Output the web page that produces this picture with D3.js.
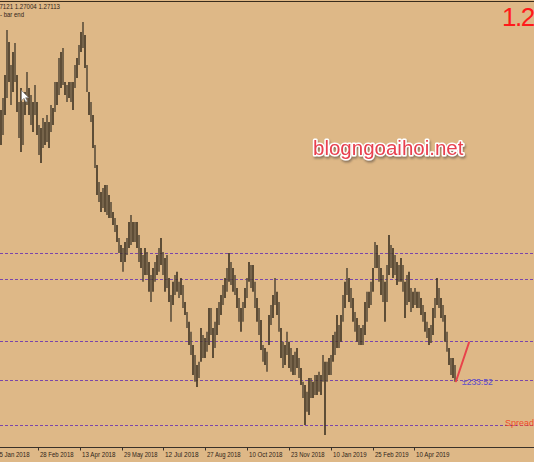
<!DOCTYPE html>
<html>
<head>
    <title>GBPUSD Daily</title>
    <script src="https://d3js.org/d3.v7.min.js"></script>
    <style>
        body { margin: 0; background: #deb887; }
        svg { display: block; }
        .bar { stroke-width: 1.6; }
        .level { stroke: #7a46aa; stroke-width: 1; stroke-dasharray: 3,2; }
        .small { font-family: "Liberation Sans", "DejaVu Sans", sans-serif; font-size: 7px; fill: #2e2418; }
    </style>
</head>
<body>
    <div id="chart"></div>
    <script>
        // daily highs / lows, one sample per ~1.5 bars
        const highs = [
            1.3963, 1.4019, 1.4127, 1.4339, 1.4283, 1.4174, 1.4236, 1.4278, 1.4127, 1.4000,
            1.4066, 1.4000, 1.4048, 1.4142, 1.4066, 1.4033, 1.4000, 1.4080, 1.4000, 1.3892,
            1.3878, 1.3925, 1.3907, 1.3939, 1.3907, 1.3986, 1.3972, 1.4095, 1.4095, 1.4207,
            1.4236, 1.4254, 1.4095, 1.4080, 1.4095, 1.4095, 1.4095, 1.4174, 1.4207, 1.4268,
            1.4330, 1.4377, 1.4315, 1.4174, 1.4048, 1.4000, 1.3939, 1.3798, 1.3704, 1.3625,
            1.3578, 1.3596, 1.3610, 1.3610, 1.3563, 1.3531, 1.3484, 1.3455, 1.3422, 1.3361,
            1.3328, 1.3314, 1.3343, 1.3361, 1.3437, 1.3469, 1.3437, 1.3437, 1.3437, 1.3375,
            1.3314, 1.3281, 1.3314, 1.3296, 1.3249, 1.3187, 1.3220, 1.3249, 1.3281, 1.3314,
            1.3361, 1.3296, 1.3267, 1.3281, 1.3173, 1.3093, 1.3155, 1.3187, 1.3202, 1.3155,
            1.3173, 1.3140, 1.3060, 1.3013, 1.2967, 1.2920, 1.2858, 1.2811, 1.2764, 1.2779,
            1.2938, 1.2905, 1.2891, 1.2920, 1.3032, 1.3032, 1.2938, 1.2967, 1.3032, 1.3060,
            1.3093, 1.3140, 1.3173, 1.3220, 1.3291, 1.3249, 1.3220, 1.3187, 1.3126, 1.3079,
            1.3032, 1.3060, 1.3126, 1.3173, 1.3249, 1.3234, 1.3234, 1.3155, 1.3079, 1.3032,
            1.2976, 1.2858, 1.2844, 1.2826, 1.2999, 1.3046, 1.3093, 1.3173, 1.3108, 1.3060,
            1.2938, 1.2873, 1.2858, 1.2920, 1.2873, 1.2844, 1.2811, 1.2826, 1.2844, 1.2797,
            1.2750, 1.2685, 1.2670, 1.2638, 1.2703, 1.2703, 1.2685, 1.2717, 1.2717, 1.2732,
            1.2717, 1.2811, 1.2779, 1.2779, 1.2797, 1.2811, 1.2905, 1.2920, 1.2999, 1.2952,
            1.2999, 1.3093, 1.3155, 1.3220, 1.3173, 1.3126, 1.3079, 1.3013, 1.2985, 1.2952,
            1.2938, 1.2952, 1.3060, 1.3108, 1.3108, 1.3155, 1.3220, 1.3343, 1.3328, 1.3281,
            1.3220, 1.3187, 1.3155, 1.3234, 1.3375, 1.3328, 1.3314, 1.3281, 1.3249, 1.3234,
            1.3267, 1.3234, 1.3155, 1.3187, 1.3202, 1.3126, 1.3108, 1.3126, 1.3108, 1.3108,
            1.3079, 1.3046, 1.3013, 1.2967, 1.2938, 1.2952, 1.3032, 1.3079, 1.3173, 1.3126,
            1.3079, 1.3046, 1.2999, 1.2920, 1.2844, 1.2797, 1.2797, 1.2764
        ];
        const lows = [
            1.3798, 1.3845, 1.3939, 1.4019, 1.4095, 1.3986, 1.4048, 1.4095, 1.3954, 1.3831,
            1.3766, 1.3798, 1.3939, 1.3986, 1.3939, 1.3892, 1.3860, 1.3939, 1.3845, 1.3751,
            1.3714, 1.3784, 1.3798, 1.3813, 1.3784, 1.3860, 1.3892, 1.3954, 1.3986, 1.4033,
            1.4066, 1.4080, 1.4033, 1.4000, 1.4019, 1.4000, 1.3963, 1.4066, 1.4113, 1.4174,
            1.4236, 1.4254, 1.4160, 1.4048, 1.3939, 1.3907, 1.3784, 1.3690, 1.3563, 1.3531,
            1.3484, 1.3502, 1.3484, 1.3469, 1.3455, 1.3455, 1.3422, 1.3390, 1.3343, 1.3291,
            1.3249, 1.3202, 1.3249, 1.3281, 1.3314, 1.3328, 1.3343, 1.3343, 1.3314, 1.3249,
            1.3220, 1.3155, 1.3187, 1.3187, 1.3108, 1.3060, 1.3108, 1.3155, 1.3187, 1.3202,
            1.3234, 1.3187, 1.3108, 1.3126, 1.3060, 1.2967, 1.3046, 1.3093, 1.3108, 1.3079,
            1.3093, 1.3032, 1.2999, 1.2938, 1.2858, 1.2811, 1.2717, 1.2685, 1.2661, 1.2703,
            1.2779, 1.2797, 1.2797, 1.2826, 1.2858, 1.2905, 1.2797, 1.2844, 1.2905, 1.2952,
            1.2999, 1.3046, 1.3079, 1.3108, 1.3155, 1.3140, 1.3108, 1.3093, 1.3032, 1.2967,
            1.2920, 1.2967, 1.3032, 1.3079, 1.3155, 1.3126, 1.3108, 1.3032, 1.2967, 1.2905,
            1.2835, 1.2779, 1.2764, 1.2732, 1.2858, 1.2952, 1.2985, 1.3046, 1.2999, 1.2920,
            1.2797, 1.2750, 1.2764, 1.2811, 1.2750, 1.2732, 1.2717, 1.2717, 1.2750, 1.2703,
            1.2670, 1.2609, 1.2482, 1.2544, 1.2529, 1.2609, 1.2609, 1.2623, 1.2623, 1.2638,
            1.2623, 1.2685, 1.2435, 1.2685, 1.2717, 1.2717, 1.2779, 1.2811, 1.2844, 1.2844,
            1.2873, 1.2967, 1.3032, 1.3093, 1.3060, 1.3032, 1.2967, 1.2920, 1.2873, 1.2858,
            1.2858, 1.2858, 1.2905, 1.2967, 1.3032, 1.3046, 1.3108, 1.3220, 1.3220, 1.3155,
            1.3093, 1.3060, 1.2967, 1.3060, 1.3187, 1.3220, 1.3173, 1.3187, 1.3140, 1.3155,
            1.3155, 1.3108, 1.2985, 1.3046, 1.3060, 1.3013, 1.3032, 1.3046, 1.3032, 1.3032,
            1.2999, 1.2967, 1.2920, 1.2891, 1.2858, 1.2868, 1.2905, 1.2985, 1.3046, 1.3032,
            1.2985, 1.2967, 1.2873, 1.2826, 1.2764, 1.2717, 1.2703, 1.2685
        ];
        // horizontal support / resistance lines
        const levels = [1.3289, 1.3167, 1.2876, 1.2693, 1.2482];
        // time axis labels and where they sit (in sample units)
        const tickLabels = ["15 Jan 2018", "28 Feb 2018", "13 Apr 2018", "29 May 2018", "12 Jul 2018",
            "27 Aug 2018", "10 Oct 2018", "23 Nov 2018", "10 Jan 2019", "25 Feb 2019", "10 Apr 2019"];
        const tickPos = [-3.4, 18.6, 39.5, 60.4, 81.2, 102.1, 123.0, 144.0, 164.9, 185.8, 206.7];
        const ohlcText = "1.27121 1.27004 1.27113";
        const lastPrice = 1.27113;
        const arrowFrom = { i: 227.5, p: 1.2688 };
        const arrowTo = { i: 234, p: 1.2870 };

        const width = 534, height = 462;
        const n = highs.length;

        const svg = d3.select("#chart").append("svg")
            .attr("width", width)
            .attr("height", height);

        svg.append("rect").attr("width", width).attr("height", height).attr("fill", "#deb887");

        const x = d3.scaleLinear().domain([0, n - 1]).range([1, 455]);
        const y = d3.scaleLinear().domain([1.24, 1.44]).range([442.5, 17]);

        // frame top line
        svg.append("line").attr("x1", 0).attr("x2", width).attr("y1", 1.5).attr("y2", 1.5)
            .attr("stroke", "#3a2c1c").attr("stroke-width", 1);

        svg.selectAll(".level").data(levels).enter().append("line")
            .attr("class", "level")
            .attr("x1", 0).attr("x2", width)
            .attr("y1", d => Math.round(y(d)) + 0.5)
            .attr("y2", d => Math.round(y(d)) + 0.5);

        svg.selectAll(".bar").data(highs).enter().append("line")
            .attr("class", "bar")
            .attr("x1", (d, i) => x(i)).attr("x2", (d, i) => x(i))
            .attr("y1", d => y(d))
            .attr("y2", (d, i) => y(lows[i]))
            .attr("stroke", (d, i) => i % 2 ? "#5c4e3b" : "#3e3324");

        // time axis
        const axisY = 447.5;
        svg.append("line").attr("x1", 0).attr("x2", width).attr("y1", axisY).attr("y2", axisY)
            .attr("stroke", "#3a3128").attr("stroke-width", 1);
        const ticks = svg.selectAll(".tk").data(tickPos).enter().append("g")
            .attr("transform", d => `translate(${Math.round(x(d)) + 0.5},0)`);
        ticks.append("line").attr("y1", axisY).attr("y2", axisY + 3).attr("stroke", "#3a3128");
        ticks.append("text").attr("class", "small").attr("x", 1.5).attr("y", 457)
            .attr("textLength", (d, i) => tickLabels[i].length * 3.05)
            .attr("lengthAdjust", "spacingAndGlyphs")
            .text((d, i) => tickLabels[i]);

        // header texts
        svg.append("text").attr("class", "small").attr("x", -9).attr("y", 8.5)
            .attr("textLength", ohlcText.length * 3.0)
            .attr("lengthAdjust", "spacingAndGlyphs")
            .text(ohlcText);
        svg.append("text").attr("class", "small").attr("x", 0).attr("y", 16.5)
            .attr("textLength", 24).attr("lengthAdjust", "spacingAndGlyphs")
            .text("- bar end");

        svg.append("text").attr("x", 502).attr("y", 26)
            .attr("font-family", "Liberation Sans, Arial, sans-serif")
            .attr("font-size", 26).attr("letter-spacing", -1.5)
            .attr("fill", "#ff1a1a").text(lastPrice.toFixed(5));

        // watermark
        const defs = svg.append("defs");
        const f = defs.append("filter").attr("id", "sh").attr("x", "-10%").attr("y", "-30%")
            .attr("width", "120%").attr("height", "170%");
        f.append("feDropShadow").attr("dx", 1).attr("dy", 2).attr("stdDeviation", 1.2)
            .attr("flood-color", "#6b5a48").attr("flood-opacity", 0.7);
        svg.append("text").attr("x", 313).attr("y", 155)
            .attr("font-family", "Liberation Sans, Arial, sans-serif")
            .attr("font-size", 20.5)
            .attr("fill", "#e8414f").attr("stroke", "#ffffff").attr("stroke-width", 3)
            .attr("paint-order", "stroke").attr("stroke-linejoin", "round")
            .attr("filter", "url(#sh)")
            .text("blogngoaihoi.net");

        // countdown + arrow
        svg.append("text").attr("x", 462).attr("y", 384.5)
            .attr("font-family", "Liberation Sans, Arial, sans-serif").attr("font-size", 8.5)
            .attr("fill", "#5a4ccc").text("±233:52");

        const ax1 = x(arrowFrom.i), ay1 = y(arrowFrom.p), ax2 = x(arrowTo.i), ay2 = y(arrowTo.p);
        svg.append("line").attr("x1", ax1).attr("y1", ay1).attr("x2", ax2).attr("y2", ay2)
            .attr("stroke", "#e8434a").attr("stroke-width", 2).attr("stroke-linecap", "round");

        svg.append("text").attr("x", 505).attr("y", 425.5)
            .attr("font-family", "Liberation Sans, Arial, sans-serif").attr("font-size", 9)
            .attr("fill", "#f04a2a").text("Spread: 2.0");

        // mouse pointer left on the chart
        svg.append("path")
            .attr("d", "M0,0 L0,10 L2.5,7.8 L4.3,11.5 L5.8,10.8 L4.1,7.2 L7.2,7.2 Z")
            .attr("transform", "translate(21.5,90.5)")
            .attr("fill", "#ffffff").attr("stroke", "#777").attr("stroke-width", 0.6);
    </script>
</body>
</html>
